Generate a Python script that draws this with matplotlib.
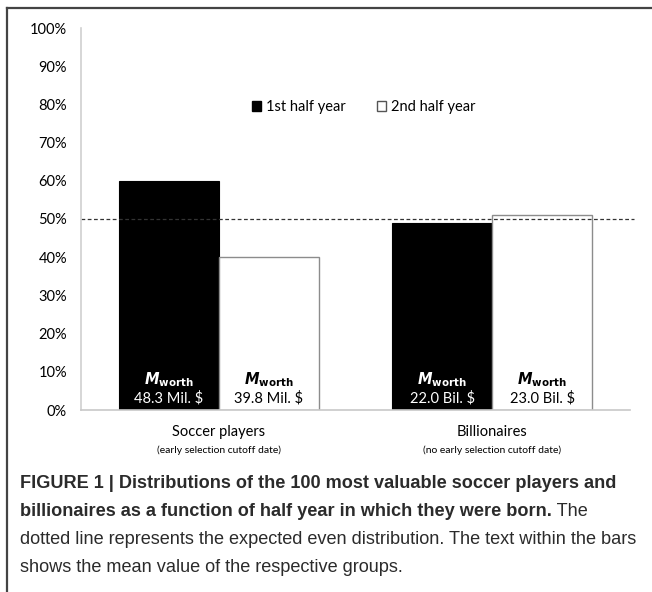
import matplotlib.pyplot as plt
from matplotlib.patches import Patch
from matplotlib.lines import Line2D

# values (percent)
groups = ["Soccer players", "Billionaires"]
subtitles = ["(early selection cutoff date)", "(no early selection cutoff date)"]
first_half = [60, 49]
second_half = [40, 51]
first_worth = ["48.3 Mil. $", "22.0 Bil. $"]
second_worth = ["39.8 Mil. $", "23.0 Bil. $"]
yticks = [0, 10, 20, 30, 40, 50, 60, 70, 80, 90, 100]

chart_font = "Lato"
cap_font = "Liberation Sans"

fig = plt.figure(figsize=(6.52, 5.92), dpi=100)
ax = fig.add_axes([81 / 652, 1 - 410 / 592, 549 / 652, 382 / 592])

x = [0, 1]
w = 0.366
ax.bar([i - w / 2 for i in x], first_half, w, color="black", edgecolor="black", linewidth=0.8)
ax.bar([i + w / 2 for i in x], second_half, w, color="white", edgecolor="#8c8c8c", linewidth=1.0)

ax.set_xlim(-0.505, 1.505)
ax.set_ylim(0, 100)
ax.set_yticks(yticks)
ax.set_yticklabels([f"{t}%" for t in yticks], fontsize=10.5, family=chart_font)
ax.tick_params(axis="y", length=0, pad=10)
ax.set_xticks([])
for s in ["top", "right"]:
    ax.spines[s].set_visible(False)
ax.spines["left"].set_color("#d0d0d0")
ax.spines["bottom"].set_color("#c8c8c8")
ax.spines["left"].set_linewidth(1.2)
ax.spines["bottom"].set_linewidth(1.2)

# expected even distribution
ax.plot([-0.505, 1.52], [50, 50], ls=(0, (3, 2)), color="#333333", lw=0.9, clip_on=False)

# text inside bars
for i in x:
    for off, txt, col in [(-w / 2, first_worth[i], "white"), (w / 2, second_worth[i], "black")]:
        ax.text(i + off, 8.0, r"$\boldsymbol{M}_{\mathbf{worth}}$", ha="center", va="center",
                color=col, fontsize=10.5)
        ax.text(i + off, 3.2, txt, ha="center", va="center", color=col, fontsize=10.5,
                family=chart_font)

# category labels
for i in x:
    ax.text(i, -5.8, groups[i], ha="center", va="center", fontsize=10.5, family=chart_font,
            transform=ax.transData, clip_on=False)
    ax.text(i, -10.4, subtitles[i], ha="center", va="center", fontsize=7.5, family=chart_font,
            transform=ax.transData, clip_on=False)

handles = [Patch(facecolor="black", edgecolor="black", label="1st half year"),
           Patch(facecolor="white", edgecolor="#555555", label="2nd half year")]
ax.legend(handles=handles, loc="center", bbox_to_anchor=(0.515, 0.793), ncol=2, frameon=False,
          handlelength=0.6, handleheight=0.6, handletextpad=0.3, columnspacing=2.2,
          prop={"family": chart_font, "size": 10.5})

# frame of the figure panel
fig.add_artist(Line2D([7 / 652, 7 / 652], [0, 1 - 8 / 592], color="#444444", lw=1.6))
fig.add_artist(Line2D([7 / 652, 1], [1 - 8 / 592, 1 - 8 / 592], color="#444444", lw=1.6))

# caption
cap_col = "#2b2b2b"
fs = 13.1
lines_y = [1 - 483 / 592, 1 - 511 / 592, 1 - 539 / 592, 1 - 567 / 592]
x0 = 20 / 652
fig.text(x0, lines_y[0], "FIGURE 1 | Distributions of the 100 most valuable soccer players and",
         fontsize=fs, weight="bold", family=cap_font, color=cap_col, va="center")
b = fig.text(x0, lines_y[1], "billionaires as a function of half year in which they were born.",
             fontsize=fs, weight="bold", family=cap_font, color=cap_col, va="center")
fig.canvas.draw()
bb = b.get_window_extent().transformed(fig.transFigure.inverted())
fig.text(bb.x1, lines_y[1], " The", fontsize=fs, family=cap_font, color=cap_col, va="center")
fig.text(x0, lines_y[2], "dotted line represents the expected even distribution. The text within the bars",
         fontsize=fs, family=cap_font, color=cap_col, va="center")
fig.text(x0, lines_y[3], "shows the mean value of the respective groups.",
         fontsize=fs, family=cap_font, color=cap_col, va="center")

plt.savefig("out.png", dpi=100)
